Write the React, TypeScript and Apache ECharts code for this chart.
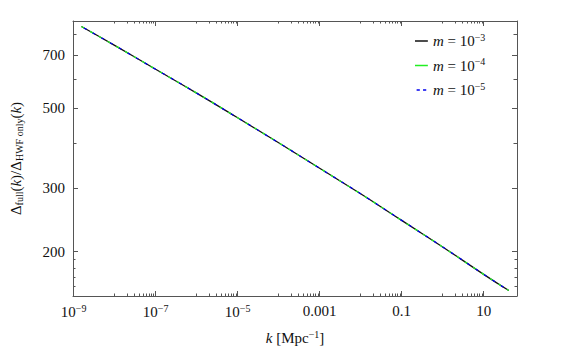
import React, { useEffect, useRef } from "react";
import * as echarts from "echarts";

// ---- data ----
const kValues = [1.55e-9, 1e-8, 1e-7, 1e-6, 1e-5, 1e-4, 1e-3, 1e-2, 1e-1, 1, 10, 41];
const ratioM3 = [839, 744, 639, 549, 469, 400, 340, 289, 244, 206, 173, 156];
const ratioM4 = [839, 744, 639, 549, 469, 400, 340, 289, 244, 206, 173, 156];
const ratioM5 = [839, 744, 639, 549, 469, 400, 340, 289, 244, 206, 173, 156];

const seriesNames = ["m = 10^-3", "m = 10^-4", "m = 10^-5"];
const legendLabels = ["{i|m} = 10{sup|\u22123}", "{i|m} = 10{sup|\u22124}", "{i|m} = 10{sup|\u22125}"];

const xMajorTicks = [1e-9, 1e-7, 1e-5, 1e-3, 0.1, 10];
const xTickLabels = ["10{sup|\u22129}", "10{sup|\u22127}", "10{sup|\u22125}", "0.001", "0.1", "10"];
const xMinorDecades = [-8, -6, -4, -2, 0];
const xMinorMultipliers = [1, 2, 3, 4, 5, 6, 7, 8, 9];

const yMajorTicks = [200, 300, 500, 700];
const yTickLabels = ["200", "300", "500", "700"];
const yMediumTicks = [400, 600, 800];
const yMinorTicks = [160, 170, 180, 190];

const X_MIN = 0.966e-9;
const X_MAX = 65;
const Y_MIN = 150.7;
const Y_MAX = 869;

const FONT = "Liberation Serif";
const AXIS_COLOR = "#555";
const BLACK = "#111";
const GREEN = "#22ee22";
const BLUE = "#0000ee";

const xMinorTicks: number[] = [];
xMinorDecades.forEach((d) => xMinorMultipliers.forEach((m) => xMinorTicks.push(m * Math.pow(10, d))));

const richBase = {
  i: { fontFamily: FONT, fontSize: 15, fontStyle: "italic", color: "#111" },
  sup: { fontFamily: FONT, fontSize: 10, color: "#111", padding: [0, 0, 8, 0] },
  sub: { fontFamily: FONT, fontSize: 10, color: "#111", padding: [7, 0, 0, 0] },
};

function nearestLabel(v: number, ticks: number[], labels: string[]) {
  for (let i = 0; i < ticks.length; i++) {
    if (Math.abs(Math.log10(v) - Math.log10(ticks[i])) < 1e-4) return labels[i];
  }
  return "";
}

function xAxisCfg(position: string, ticks: number[], len: number, showLine: boolean, withLabels: boolean) {
  return {
    type: "log",
    logBase: 10,
    min: X_MIN,
    max: X_MAX,
    position,
    gridIndex: 0,
    axisLine: { show: showLine, onZero: false, lineStyle: { color: AXIS_COLOR, width: 1 } },
    axisTick: { show: true, inside: true, length: len, customValues: ticks, lineStyle: { color: AXIS_COLOR, width: 1 } },
    axisLabel: withLabels
      ? {
          show: true,
          customValues: ticks,
          margin: 7,
          fontFamily: FONT,
          fontSize: 15,
          color: "#111",
          formatter: (v: number) => nearestLabel(v, xMajorTicks, xTickLabels),
          rich: richBase,
        }
      : { show: false },
    splitLine: { show: false },
    minorTick: { show: false },
  };
}

function yAxisCfg(position: string, ticks: number[], len: number, showLine: boolean, withLabels: boolean) {
  return {
    type: "log",
    logBase: 10,
    min: Y_MIN,
    max: Y_MAX,
    position,
    gridIndex: 0,
    axisLine: { show: showLine, onZero: false, lineStyle: { color: AXIS_COLOR, width: 1 } },
    axisTick: { show: true, inside: true, length: len, customValues: ticks, lineStyle: { color: AXIS_COLOR, width: 1 } },
    axisLabel: withLabels
      ? {
          show: true,
          customValues: ticks,
          margin: 8,
          fontFamily: FONT,
          fontSize: 15,
          color: "#111",
          formatter: (v: number) => nearestLabel(v, yMajorTicks, yTickLabels),
        }
      : { show: false },
    splitLine: { show: false },
    minorTick: { show: false },
  };
}

export default function App() {
  const ref = useRef<HTMLDivElement>(null);

  useEffect(() => {
    if (!ref.current) return;
    const chart = echarts.init(ref.current, null, { renderer: "svg" });

    const mk = (vals: number[]) => kValues.map((k, i) => [k, vals[i]]);

    const xAxes = [
      {
        ...xAxisCfg("bottom", xMajorTicks, 5, true, true),
        name: "{i|k} [Mpc{sup|\u22121}]",
        nameLocation: "middle",
        nameGap: 33,
        nameTextStyle: { fontFamily: FONT, fontSize: 15, color: "#111", rich: richBase },
      },
      xAxisCfg("bottom", xMinorTicks, 2.5, false, false),
      xAxisCfg("top", xMajorTicks, 5, true, false),
      xAxisCfg("top", xMinorTicks, 2.5, false, false),
    ];

    const yAxes = [
      {
        ...yAxisCfg("left", yMajorTicks, 5, true, true),
        name: "\u0394{sub|full}({i|k})/\u0394{sub|HWF only}({i|k})",
        nameLocation: "middle",
        nameGap: 49,
        nameRotate: 90,
        nameTextStyle: { fontFamily: FONT, fontSize: 15, color: "#111", rich: richBase },
      },
      yAxisCfg("left", yMediumTicks, 3.5, false, false),
      yAxisCfg("left", yMinorTicks, 2.5, false, false),
      yAxisCfg("right", yMajorTicks, 5, true, false),
      yAxisCfg("right", yMediumTicks, 3.5, false, false),
      yAxisCfg("right", yMinorTicks, 2.5, false, false),
    ];

    const solidIcon = "path://M0,0h12v1.4h-12z";
    const dashIcon = "path://M0,0h3v1.4h-3z M6,0h3v1.4h-3z";

    chart.setOption({
      animation: false,
      backgroundColor: "#fff",
      grid: { left: 72, right: 67, top: 21, bottom: 68, containLabel: false },
      xAxis: xAxes,
      yAxis: yAxes,
      legend: {
        orient: "vertical",
        left: 410,
        top: 27,
        itemWidth: 13,
        itemHeight: 1.5,
        itemGap: 8,
        textStyle: { fontFamily: FONT, fontSize: 15, color: "#111", rich: richBase },
        formatter: (name: string) => legendLabels[seriesNames.indexOf(name)],
        data: [
          { name: seriesNames[0], icon: solidIcon, itemStyle: { color: BLACK } },
          { name: seriesNames[1], icon: solidIcon, itemStyle: { color: GREEN } },
          { name: seriesNames[2], icon: dashIcon, itemStyle: { color: BLUE } },
        ],
      },
      series: [
        {
          name: seriesNames[0],
          type: "line",
          xAxisIndex: 0,
          yAxisIndex: 0,
          data: mk(ratioM3),
          symbol: "none",
          smooth: true,
          lineStyle: { color: BLACK, width: 1.3, type: "solid" },
          itemStyle: { color: BLACK },
        },
        {
          name: seriesNames[1],
          type: "line",
          xAxisIndex: 0,
          yAxisIndex: 0,
          data: mk(ratioM4),
          symbol: "none",
          smooth: true,
          lineStyle: { color: GREEN, width: 1.3, type: [3.5, 6.5], dashOffset: 0 },
          itemStyle: { color: GREEN },
        },
        {
          name: seriesNames[2],
          type: "line",
          xAxisIndex: 0,
          yAxisIndex: 0,
          data: mk(ratioM5),
          symbol: "none",
          smooth: true,
          lineStyle: { color: BLUE, width: 1.3, type: [3, 7], dashOffset: 6.5 },
          itemStyle: { color: BLUE },
        },
      ],
    });

    return () => chart.dispose();
  }, []);

  return (
    <div
      ref={ref}
      style={{ position: "fixed", left: 0, top: 0, width: 584, height: 364, background: "#fff" }}
    />
  );
}
